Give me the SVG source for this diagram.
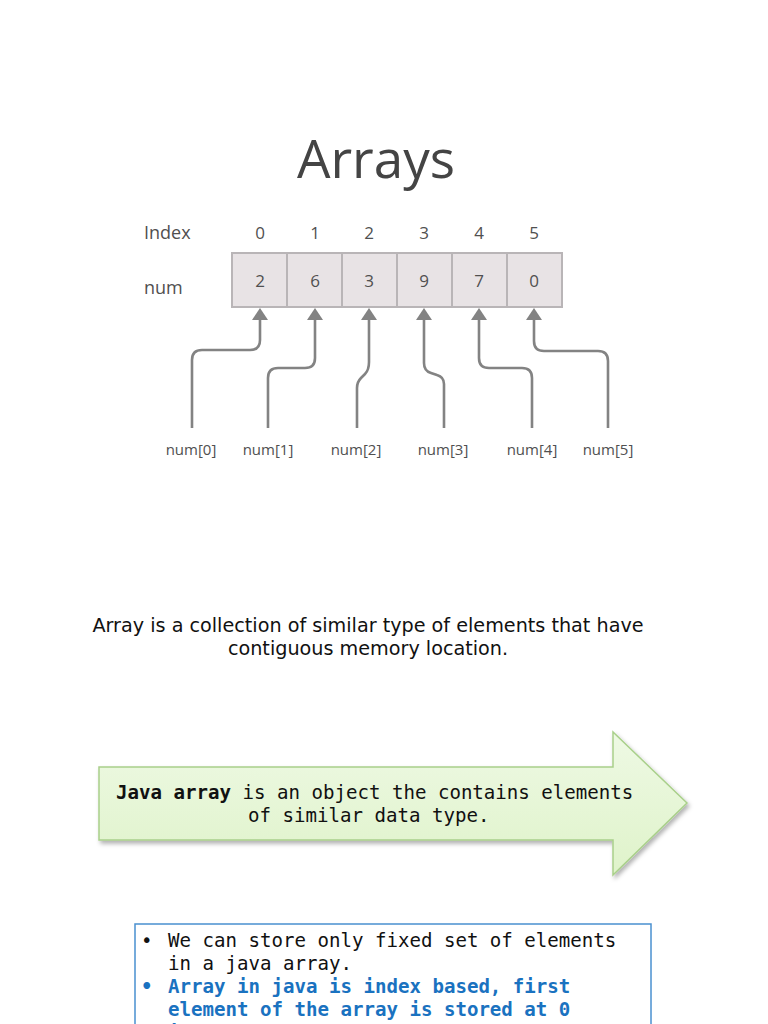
<svg xmlns="http://www.w3.org/2000/svg" width="768" height="1024" viewBox="0 0 768 1024">
<style>
.sans{font-family:"Open Sans","Noto Sans",sans-serif;fill:#505050}
.cell{fill:#e8e3e5;stroke:#b9b5b7;stroke-width:2}
.conn{fill:none;stroke:#838383;stroke-width:2.6;stroke-linejoin:round}
.mono{font-family:"DejaVu Sans Mono","Liberation Mono",monospace;font-size:19.1px;fill:#111}
.bl{font-family:"DejaVu Sans Mono","Liberation Mono",monospace;font-size:19.1px}
</style>
<defs>
<marker id="ah" markerUnits="userSpaceOnUse" markerWidth="14" markerHeight="18" refX="0" refY="8" orient="auto">
<path d="M0,0 L12,8 L0,16 z" fill="#838383"/>
</marker>
<linearGradient id="gr" x1="0" y1="0" x2="0" y2="1">
<stop offset="0" stop-color="#eef9e4"/>
<stop offset="1" stop-color="#dff3ca"/>
</linearGradient>
<filter id="sh" x="-5%" y="-10%" width="115%" height="130%">
<feDropShadow dx="2" dy="3" stdDeviation="2" flood-color="#000" flood-opacity="0.3"/>
</filter>
</defs>
<rect width="768" height="1024" fill="#fff"/>
<g id="title"><text x="376" y="178" text-anchor="middle" class="sans" font-size="53" font-weight="500" style="fill:#444">Arrays</text></g>
<g id="labels">
<text x="144" y="239" class="sans" font-size="18">Index</text>
<text x="144" y="294" class="sans" font-size="18">num</text>
</g>
<g id="indices" class="sans" font-size="17" text-anchor="middle">
<text x="260" y="239">0</text><text x="315" y="239">1</text><text x="369" y="239">2</text>
<text x="424" y="239">3</text><text x="479" y="239">4</text><text x="534" y="239">5</text>
</g>
<g id="array">
<g id="cell0"><rect class="cell" x="232" y="253" width="55" height="54"/><text x="260" y="287" text-anchor="middle" class="sans" font-size="17">2</text></g>
<g id="cell1"><rect class="cell" x="287" y="253" width="55" height="54"/><text x="315" y="287" text-anchor="middle" class="sans" font-size="17">6</text></g>
<g id="cell2"><rect class="cell" x="342" y="253" width="55" height="54"/><text x="369" y="287" text-anchor="middle" class="sans" font-size="17">3</text></g>
<g id="cell3"><rect class="cell" x="397" y="253" width="55" height="54"/><text x="424" y="287" text-anchor="middle" class="sans" font-size="17">9</text></g>
<g id="cell4"><rect class="cell" x="452" y="253" width="55" height="54"/><text x="479" y="287" text-anchor="middle" class="sans" font-size="17">7</text></g>
<g id="cell5"><rect class="cell" x="507" y="253" width="55" height="54"/><text x="534" y="287" text-anchor="middle" class="sans" font-size="17">0</text></g>
</g>
<g id="connectors">
<path class="conn" marker-end="url(#ah)" d="M192,428 V360 Q192,350 202,350 H250 Q260,350 260,340 V320"/>
<path class="conn" marker-end="url(#ah)" d="M268,428 V378 Q268,368 278,368 H305 Q315,368 315,358 V320"/>
<path class="conn" marker-end="url(#ah)" d="M357,428 V388 Q357,382 361,378 L365,374 Q369,370 369,362 V320"/>
<path class="conn" marker-end="url(#ah)" d="M444,428 V384 Q444,377 437,375 L431,373 Q424,371 424,363 V320"/>
<path class="conn" marker-end="url(#ah)" d="M532,428 V378 Q532,368 522,368 H489 Q479,368 479,358 V320"/>
<path class="conn" marker-end="url(#ah)" d="M608,428 V361 Q608,351 598,351 H544 Q534,351 534,341 V320"/>
</g>
<g id="refs" class="sans" font-size="15" text-anchor="middle">
<text x="191" y="455">num[0]</text><text x="268" y="455">num[1]</text><text x="356" y="455">num[2]</text>
<text x="443" y="455">num[3]</text><text x="532" y="455">num[4]</text><text x="608" y="455">num[5]</text>
</g>
<g id="definition" font-family="'DejaVu Sans',Verdana,sans-serif" font-size="19.2" fill="#111" text-anchor="middle">
<text x="368" y="632">Array is a collection of similar type of elements that have</text>
<text x="368" y="655">contiguous memory location.</text>
</g>
<g id="java-arrow">
<path d="M99,767 H613 V732 L687,803 L613,875 V840 H99 Z" fill="url(#gr)" stroke="#a9d08a" stroke-width="1.5" filter="url(#sh)"/>
<text x="116" y="799" class="mono"><tspan font-weight="bold">Java array</tspan> is an object the contains elements</text>
<text x="248" y="822" class="mono">of similar data type.</text>
</g>
<g id="notes">
<rect x="135" y="924" width="516" height="120" fill="#fff" stroke="#4a90d0" stroke-width="1.5"/>
<text x="141" y="947" class="bl" fill="#111">•</text>
<text x="168" y="947" class="bl" fill="#111">We can store only fixed set of elements</text>
<text x="168" y="970" class="bl" fill="#111">in a java array.</text>
<text x="141" y="993" class="bl" fill="#1a72c0" font-weight="bold">•</text>
<text x="168" y="993" class="bl" fill="#1a72c0" font-weight="bold">Array in java is index based, first</text>
<text x="168" y="1016" class="bl" fill="#1a72c0" font-weight="bold">element of the array is stored at 0</text>
<text x="168" y="1039" class="bl" fill="#1a72c0" font-weight="bold">index.</text>
</g>
</svg>
